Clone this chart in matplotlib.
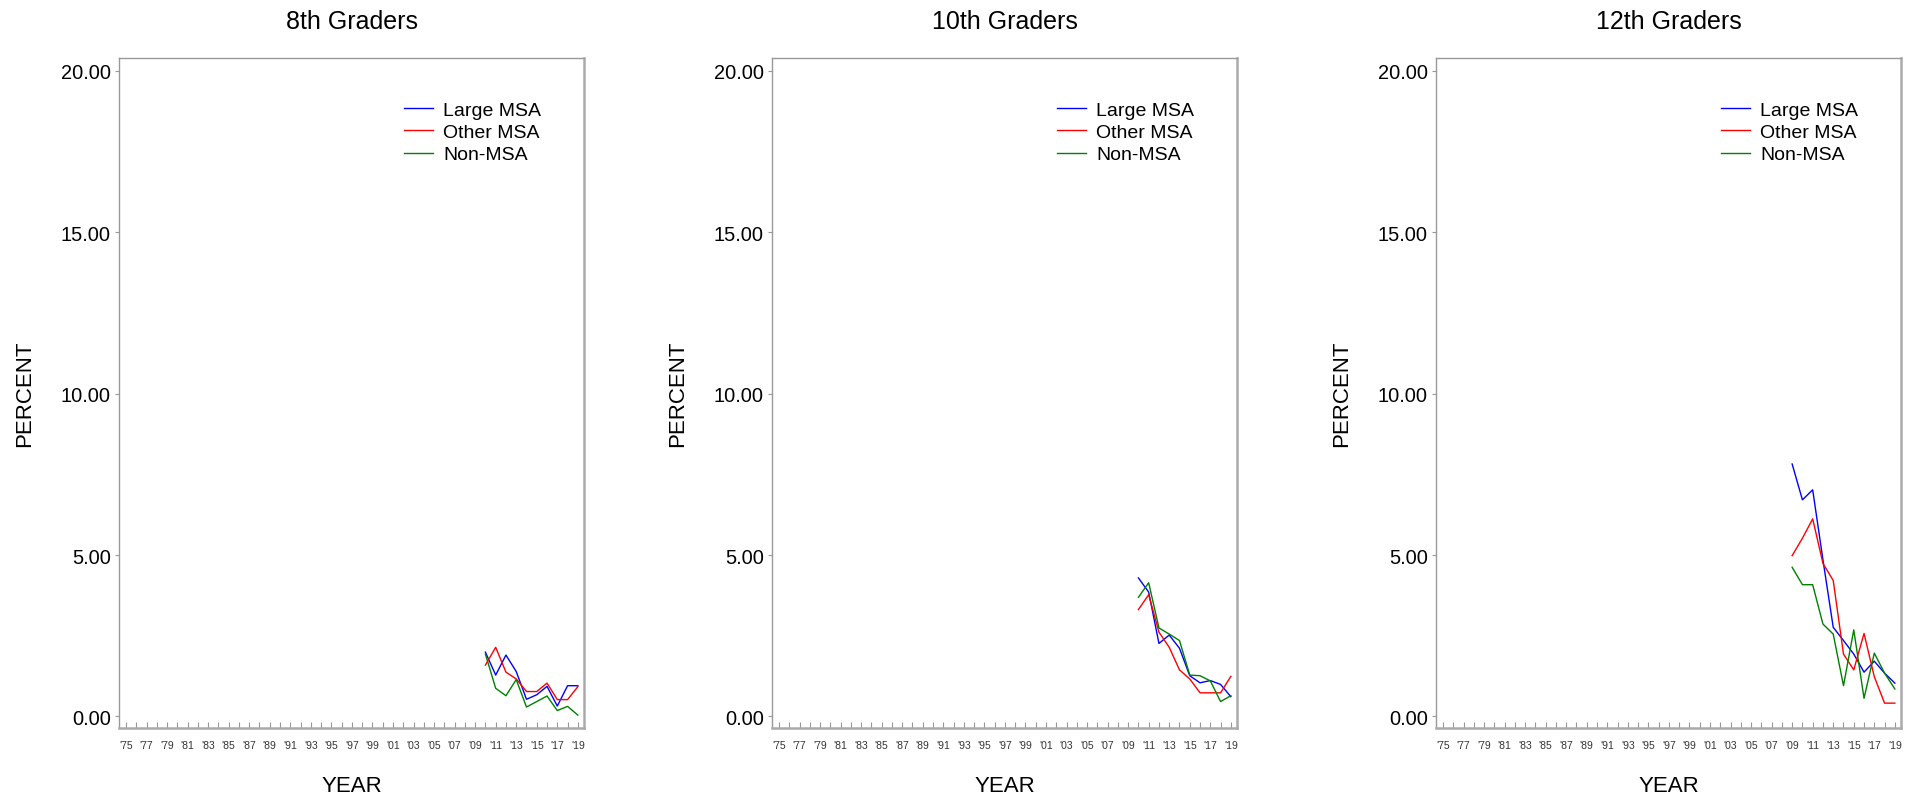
import matplotlib
matplotlib.use("Agg")
import matplotlib.pyplot as plt

plt.rcParams['font.family'] = ['Liberation Sans', 'DejaVu Sans']

titles = ["8th Graders", "10th Graders", "12th Graders"]
series_names = ["Large MSA", "Other MSA", "Non-MSA"]
series_colors = ["#0000ff", "#ff0000", "#008000"]

years_8 = [2010, 2011, 2012, 2013, 2014, 2015, 2016, 2017, 2018, 2019]
large_8 = [1.99, 1.28, 1.90, 1.39, 0.53, 0.67, 0.93, 0.32, 0.95, 0.95]
other_8 = [1.59, 2.14, 1.37, 1.16, 0.77, 0.77, 1.03, 0.52, 0.52, 0.92]
non_8 = [1.93, 0.87, 0.64, 1.14, 0.29, 0.46, 0.63, 0.18, 0.31, 0.04]

years_10 = [2010, 2011, 2012, 2013, 2014, 2015, 2016, 2017, 2018, 2019]
large_10 = [4.29, 3.85, 2.26, 2.52, 2.11, 1.26, 1.04, 1.11, 0.99, 0.61]
other_10 = [3.31, 3.77, 2.61, 2.14, 1.44, 1.16, 0.73, 0.73, 0.73, 1.24]
non_10 = [3.69, 4.14, 2.74, 2.55, 2.35, 1.28, 1.26, 1.10, 0.46, 0.64]

years_12 = [2009, 2010, 2011, 2012, 2013, 2014, 2015, 2016, 2017, 2018, 2019]
large_12 = [7.82, 6.71, 7.02, 4.85, 2.76, 2.35, 1.93, 1.37, 1.71, 1.34, 1.03]
other_12 = [4.98, 5.52, 6.12, 4.74, 4.21, 1.93, 1.44, 2.57, 1.23, 0.41, 0.41]
non_12 = [4.62, 4.08, 4.08, 2.86, 2.55, 0.95, 2.68, 0.56, 1.96, 1.34, 0.85]

tick_years = list(range(1975, 2020))
y_ticks = [0, 5, 10, 15, 20]

panels = [
    (years_8, [large_8, other_8, non_8]),
    (years_10, [large_10, other_10, non_10]),
    (years_12, [large_12, other_12, non_12]),
]

W, H = 1923, 804
fig = plt.figure(figsize=(W / 100, H / 100), dpi=100)

lefts = [119, 772, 1436]
ax_w = 465
ax_bottom = 75
ax_h = 669.7

for i, (yrs, vals) in enumerate(panels):
    ax = fig.add_axes([lefts[i] / W, ax_bottom / H, ax_w / W, ax_h / H])
    for name, color, v in zip(series_names, series_colors, vals):
        ax.plot(yrs, v, color=color, lw=1.0, label=name)
    ax.set_xlim(1974.32, 2019.6)
    ax.set_ylim(-0.36, 20.39)
    ax.set_xticks(tick_years)
    ax.set_xticklabels([("'%02d" % (y % 100)) if (y - 1975) % 2 == 0 else "" for y in tick_years],
                       fontsize=7.5, color="#333333")
    ax.set_yticks(y_ticks)
    ax.set_yticklabels(["%.2f" % t for t in y_ticks], fontsize=14.4, color="black")
    ax.tick_params(axis='x', direction='in', length=4.5, width=0.8, color='#999999', pad=9)
    ax.tick_params(axis='y', direction='out', length=3, width=0.8, color='#999999', pad=3)
    for side in ['left', 'top']:
        ax.spines[side].set_color('#999999')
        ax.spines[side].set_linewidth(1.0)
    for side in ['right', 'bottom']:
        ax.spines[side].set_color('#aaaaaa')
        ax.spines[side].set_linewidth(1.8)
    leg = ax.legend(loc='upper left', bbox_to_anchor=(0.613, 0.936), frameon=False,
                    fontsize=14, handlelength=1.5, handletextpad=0.5, labelspacing=0.24,
                    borderpad=0, borderaxespad=0)
    cx = (lefts[i] + ax_w / 2) / W
    fig.text(cx, 1 - 22 / H, titles[i], ha='center', va='center', fontsize=18)
    fig.text(cx, 17 / H, "YEAR", ha='center', va='center', fontsize=16)
    fig.text((lefts[i] - 94) / W, (ax_bottom + ax_h / 2) / H, "PERCENT", ha='center', va='center',
             rotation=90, fontsize=16)

fig.savefig("out.png", dpi=100)
